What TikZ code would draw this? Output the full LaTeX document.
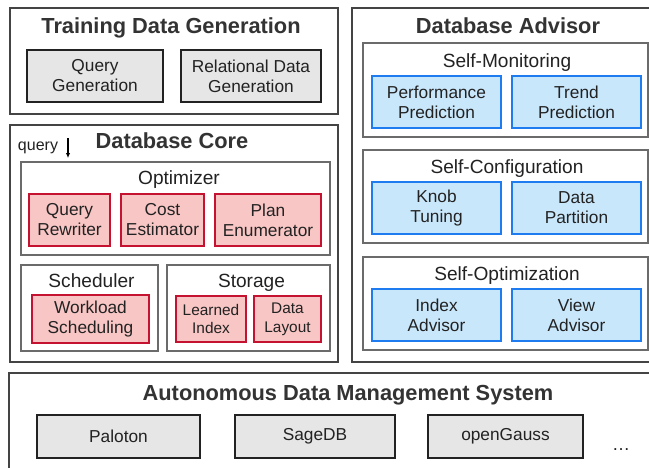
\documentclass[tikz,border=0pt]{standalone}
\usepackage{fontspec}
\setmainfont{Liberation Sans}
\usetikzlibrary{arrows.meta}
\definecolor{outerc}{HTML}{444444}
\definecolor{subc}{HTML}{6B6B6B}
\definecolor{grayc}{HTML}{222222}
\definecolor{grayf}{HTML}{E6E6E6}
\definecolor{redc}{HTML}{C41230}
\definecolor{redf}{HTML}{F8C6C4}
\definecolor{bluec}{HTML}{1E7BF0}
\definecolor{bluef}{HTML}{C9E7FB}
\definecolor{titlec}{HTML}{333333}
\definecolor{textc}{HTML}{222222}
\begin{document}
\begin{tikzpicture}[x=1pt,y=-1pt,
  outerbox/.style={draw=outerc,line width=1.2pt,inner sep=0pt,fill=white},
  subbox/.style={draw=subc,line width=2pt,inner sep=0pt,fill=white},
  inbox/.style={line width=1.3pt,inner sep=0pt,align=center,text=textc,font=\fontsize{17.3}{20}\selectfont},
  graybox/.style={inbox,draw=grayc,fill=grayf},
  redbox/.style={inbox,draw=redc,fill=redf},
  bluebox/.style={inbox,draw=bluec,fill=bluef},
  smallred/.style={redbox,font=\fontsize{15.4}{18.7}\selectfont},
  title/.style={anchor=base,inner sep=0pt,text=titlec,font=\fontsize{21.8}{24}\selectfont\bfseries},
  subtitle/.style={anchor=base,inner sep=0pt,text=textc,font=\fontsize{19.1}{22}\selectfont},
  plain/.style={anchor=base,inner sep=0pt,text=textc,font=\fontsize{16}{19}\selectfont}
]
\clip (0,0) rectangle (649,467);
\fill[white] (0,0) rectangle (649,467);

% Training Data Generation
\node[outerbox,minimum width=328pt,minimum height=106pt] (tdg) at (174,61) {};
\node[title] (tdgt) at (171,33) {Training Data Generation};
\node[graybox,minimum width=136pt,minimum height=52pt] (qg) at (95,76) {Query\\Generation};
\node[graybox,minimum width=140pt,minimum height=52pt] (rdg) at (251,76) {Relational Data\\Generation};

% Database Core
\node[outerbox,minimum width=328pt,minimum height=237pt] (core) at (174,243.5) {};
\node[title] (coret) at (172,148) {Database Core};
\node[plain] (query) at (38,150) {query};
\node[subbox,minimum width=309pt,minimum height=93pt] (opt) at (175.5,208.5) {};
\node[subtitle] (optt) at (179,184) {Optimizer};
\node[redbox,minimum width=81pt,minimum height=52pt] (qr) at (69.5,220) {Query\\Rewriter};
\node[redbox,minimum width=83pt,minimum height=52pt] (ce) at (162.5,220) {Cost\\Estimator};
\node[redbox,minimum width=106pt,minimum height=52pt] (pe) at (268,220) {Plan\\Enumerator};
\node[subbox,minimum width=137pt,minimum height=86pt] (sch) at (89.5,308) {};
\node[subtitle] (scht) at (91.5,287.5) {Scheduler};
\node[redbox,minimum width=117pt,minimum height=48pt] (ws) at (90.5,319) {Workload\\Scheduling};
\node[subbox,minimum width=163pt,minimum height=86pt] (sto) at (248.5,308) {};
\node[subtitle] (stot) at (251.5,287.5) {Storage};
\node[smallred,minimum width=70pt,minimum height=46pt] (li) at (211,319) {Learned\\Index};
\node[smallred,minimum width=67pt,minimum height=46pt] (dl) at (287.5,319) {Data\\Layout};
\coordinate (qs) at (68,138);
\draw[line width=1.1pt,-{Latex[length=5pt,width=4.5pt]},shorten >=3pt] (qs) -- (qs |- opt.north);

% Database Advisor
\node[outerbox,minimum width=312pt,minimum height=354pt] (adv) at (508,185) {};
\node[title] (advt) at (508,33) {Database Advisor};
\node[subbox,minimum width=285pt,minimum height=94pt] (sm) at (505.5,90) {};
\node[subtitle] (smt) at (507,67) {Self-Monitoring};
\node[bluebox,minimum width=129pt,minimum height=52pt] (pp) at (436.5,102) {Performance\\Prediction};
\node[bluebox,minimum width=129pt,minimum height=52pt] (tp) at (576.5,102) {Trend\\Prediction};
\node[subbox,minimum width=285pt,minimum height=93pt] (sc) at (505.5,196.5) {};
\node[subtitle] (sct) at (507,173.5) {Self-Configuration};
\node[bluebox,minimum width=129pt,minimum height=52pt] (kt) at (436.5,208) {Knob\\Tuning};
\node[bluebox,minimum width=129pt,minimum height=52pt] (dp) at (576.5,208) {Data\\Partition};
\node[subbox,minimum width=285pt,minimum height=93pt] (so) at (505.5,303.5) {};
\node[subtitle] (sot) at (507,280) {Self-Optimization};
\node[bluebox,minimum width=129pt,minimum height=52pt] (ia) at (436.5,315) {Index\\Advisor};
\node[bluebox,minimum width=129pt,minimum height=52pt] (va) at (576.5,315) {View\\Advisor};

% Autonomous Data Management System
\node[outerbox,minimum width=678pt,minimum height=117pt] (adms) at (348,431.5) {};
\node[title] (admst) at (348,400) {Autonomous Data Management System};
\node[graybox,minimum width=163pt,minimum height=43pt] (pal) at (118.5,436.5) {Paloton};
\node[graybox,minimum width=160pt,minimum height=43pt] (sage) at (315,436.5) {SageDB};
\node[graybox,minimum width=155pt,minimum height=43pt] (og) at (505.5,436.5) {openGauss};
\node[plain,font=\fontsize{18}{20}\selectfont] (dots) at (621,450) {\dots};
\end{tikzpicture}
\end{document}
